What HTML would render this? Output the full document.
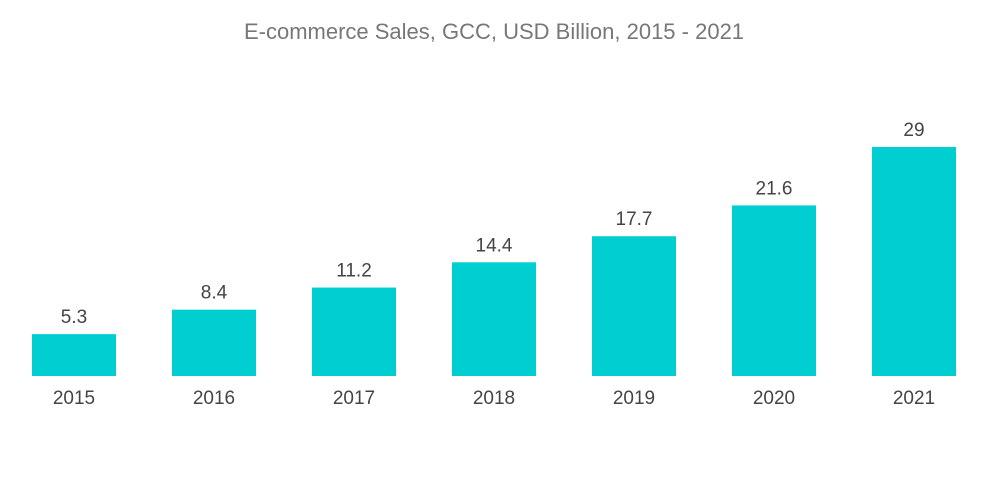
<!DOCTYPE html>
<html><head><meta charset="utf-8"><style>
html,body{margin:0;padding:0;background:#fff;}
svg{display:block;font-family:"Liberation Sans",sans-serif;}
</style></head><body>
<svg id="chart" width="1000" height="504">
<text x="494" y="39" text-anchor="middle" font-size="22" fill="#777">E-commerce Sales, GCC, USD Billion, 2015 - 2021</text>
</svg>
<script>
const categories=["2015","2016","2017","2018","2019","2020","2021"];
const values=[5.3,8.4,11.2,14.4,17.7,21.6,29];
const valueLabels=["5.3","8.4","11.2","14.4","17.7","21.6","29"];
const svg=document.getElementById('chart');
const NS='http://www.w3.org/2000/svg';
const baseY=376, scale=229/29, x0=74, step=140, bw=84;
function xPos(i){return x0+i*step;}
function yPos(v){return baseY-v*scale;}
categories.forEach((c,i)=>{
  const r=document.createElementNS(NS,'rect');
  r.setAttribute('x',xPos(i)-bw/2);r.setAttribute('y',yPos(values[i]));
  r.setAttribute('width',bw);r.setAttribute('height',baseY-yPos(values[i]));
  r.setAttribute('fill','#00ced1');
  
  
  svg.appendChild(r);
  const t=document.createElementNS(NS,'text');
  t.setAttribute('x',xPos(i));t.setAttribute('y',yPos(values[i])-11);
  t.setAttribute('text-anchor','middle');t.setAttribute('font-size','19');t.setAttribute('fill','#444');
  t.textContent=valueLabels[i];
  
  
  svg.appendChild(t);
  const l=document.createElementNS(NS,'text');
  l.setAttribute('x',xPos(i));l.setAttribute('y',404);
  l.setAttribute('text-anchor','middle');l.setAttribute('font-size','19');l.setAttribute('fill','#444');
  l.textContent=c;
  
  
  svg.appendChild(l);
});
</script>
</body></html>
